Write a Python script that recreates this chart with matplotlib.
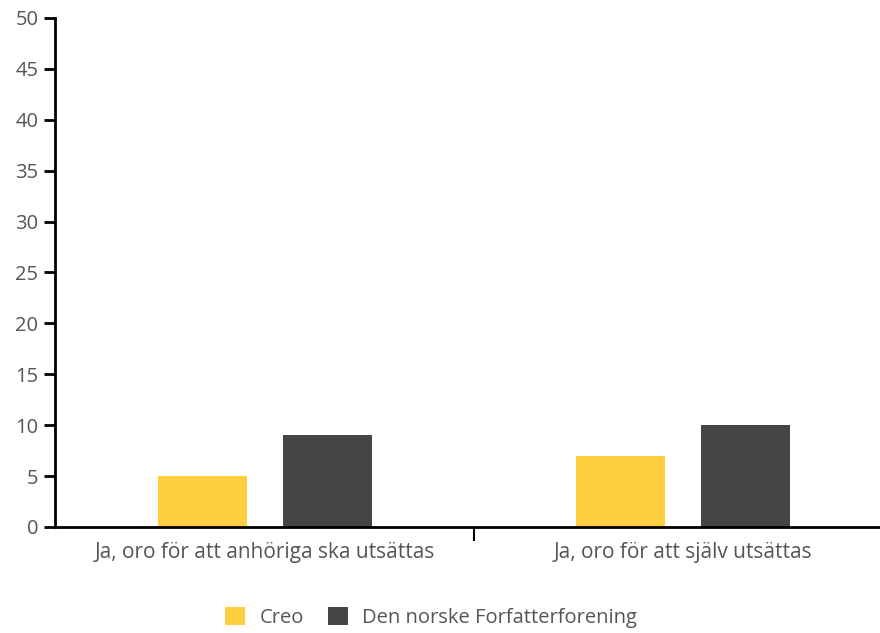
import numpy as np
import matplotlib.pyplot as plt
from matplotlib.ticker import FixedLocator

categories = ['Ja, oro för att anhöriga ska utsättas', 'Ja, oro för att själv utsättas']
series_names = ['Creo', 'Den norske Forfatterforening']
creo = [5, 7]
forfatter = [9, 10]
colors = ['#FDCE40', '#454547']

plt.rcParams['font.family'] = ['Open Sans', 'DejaVu Sans']
text_color = '#555555'

fig = plt.figure(figsize=(8.8, 6.33), dpi=100)
ax = fig.add_axes([0.0625, 0.1675, 0.9375, 0.8041])

x = np.arange(len(categories))
width = 0.213
ax.bar(x - 0.15, creo, width, color=colors[0], label=series_names[0])
ax.bar(x + 0.15, forfatter, width, color=colors[1], label=series_names[1])

ax.set_xlim(-0.502, 1.471)
ax.set_ylim(0, 50)
ax.set_yticks(range(0, 51, 5))
ax.set_xticks(x)
ax.set_xticklabels(categories)
ax.tick_params(axis='x', which='major', length=0, pad=11, labelsize=15, labelcolor=text_color)
ax.xaxis.set_minor_locator(FixedLocator([0.5]))
ax.tick_params(axis='x', which='minor', length=10, width=1.5, color='black')
ax.tick_params(axis='y', length=8, width=2, color='black', labelsize=14.5, labelcolor=text_color, pad=4)

for side in ['top', 'right']:
    ax.spines[side].set_visible(False)
for side in ['left', 'bottom']:
    ax.spines[side].set_linewidth(2)
    ax.spines[side].set_color('black')

leg = fig.legend(loc='lower center', bbox_to_anchor=(0.49, -0.02), ncol=2, frameon=False,
                 fontsize=14.5, handlelength=1.0, handleheight=1.0, columnspacing=1.2, handletextpad=0.7)
for t in leg.get_texts():
    t.set_color(text_color)

fig.savefig('out.png', dpi=100)
